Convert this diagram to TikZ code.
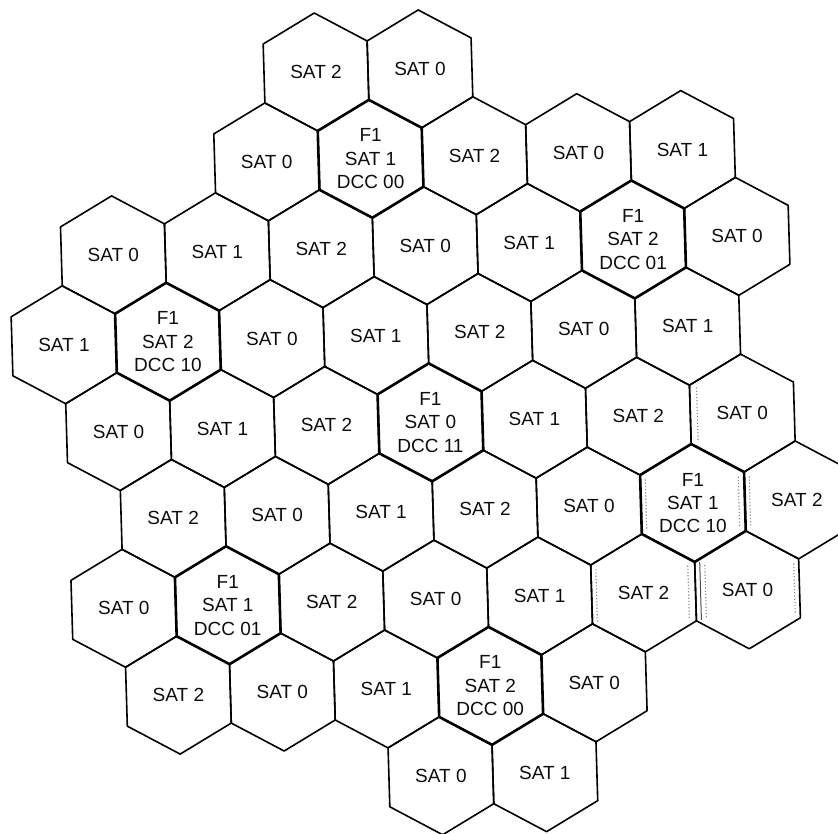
\documentclass[tikz,border=0pt]{standalone}
\usepackage{fontspec}
\setmainfont{Liberation Sans}
\usepackage{tikz}
\usetikzlibrary{calc}
% one cell of the grid: [style] {q}{r}{name}{text}
\newcommand{\hexcell}[5][]{%
  \draw[cell,#1,shift={(#2*104+#3*52,#3*88.4)}]
    (0,-59) -- (52,-29.5) -- (52,29.5) -- (0,59) -- (-52,29.5) -- (-52,-29.5) -- cycle;
  \node[celltext] (#4) at (#2*104+#3*52,#3*88.4) {#5};}

\begin{document}
\begin{tikzpicture}[x=0.5pt, y=-0.5pt,
    cell/.style={draw=black, line width=0.8pt, line join=round},
    fcell/.style={line width=1.3pt},
    celltext/.style={font=\fontsize{9.5}{11.7}\selectfont, align=center, inner sep=0pt, text=black!95},
    scanmark/.style={draw=black!45, densely dotted, line width=0.6pt}]
  \useasboundingbox (0,0) rectangle (838,833);
  \begin{scope}[shift={(316,72)}, rotate=1.7]
  % row 0
  \hexcell{0}{0}{a1}{SAT 2}
  \hexcell{1}{0}{a2}{SAT 0}
  % row 1
  \hexcell{-1}{1}{b1}{SAT 0}
  \hexcell{1}{1}{b3}{SAT 2}
  \hexcell{2}{1}{b4}{SAT 0}
  \hexcell{3}{1}{b5}{SAT 1}
  % row 2
  \hexcell{-3}{2}{c1}{SAT 0}
  \hexcell{-2}{2}{c2}{SAT 1}
  \hexcell{-1}{2}{c3}{SAT 2}
  \hexcell{0}{2}{c4}{SAT 0}
  \hexcell{1}{2}{c5}{SAT 1}
  \hexcell{3}{2}{c7}{SAT 0}
  % row 3
  \hexcell{-4}{3}{d1}{SAT 1}
  \hexcell{-2}{3}{d3}{SAT 0}
  \hexcell{-1}{3}{d4}{SAT 1}
  \hexcell{0}{3}{d5}{SAT 2}
  \hexcell{1}{3}{d6}{SAT 0}
  \hexcell{2}{3}{d7}{SAT 1}
  % row 4
  \hexcell{-4}{4}{e1}{SAT 0}
  \hexcell{-3}{4}{e2}{SAT 1}
  \hexcell{-2}{4}{e3}{SAT 2}
  \hexcell{0}{4}{e5}{SAT 1}
  \hexcell{1}{4}{e6}{SAT 2}
  \hexcell{2}{4}{e7}{SAT 0}
  % row 5
  \hexcell{-4}{5}{f1}{SAT 2}
  \hexcell{-3}{5}{f2}{SAT 0}
  \hexcell{-2}{5}{f3}{SAT 1}
  \hexcell{-1}{5}{f4}{SAT 2}
  \hexcell{0}{5}{f5}{SAT 0}
  \hexcell{2}{5}{f7}{SAT 2}
  % row 6
  \hexcell{-5}{6}{g1}{SAT 0}
  \hexcell{-3}{6}{g3}{SAT 2}
  \hexcell{-2}{6}{g4}{SAT 0}
  \hexcell{-1}{6}{g5}{SAT 1}
  \hexcell{0}{6}{g6}{SAT 2}
  \hexcell{1}{6}{g7}{SAT 0}
  % row 7
  \hexcell{-5}{7}{h1}{SAT 2}
  \hexcell{-4}{7}{h2}{SAT 0}
  \hexcell{-3}{7}{h3}{SAT 1}
  \hexcell{-1}{7}{h5}{SAT 0}
  % row 8
  \hexcell{-3}{8}{i1}{SAT 0}
  \hexcell{-2}{8}{i2}{SAT 1}

  % F1 cells, heavier outline on top
  \hexcell[fcell]{0}{1}{b2}{F1\\SAT 1\\DCC 00}
  \hexcell[fcell]{2}{2}{c6}{F1\\SAT 2\\DCC 01}
  \hexcell[fcell]{-3}{3}{d2}{F1\\SAT 2\\DCC 10}
  \hexcell[fcell]{-1}{4}{e4}{F1\\SAT 0\\DCC 11}
  \hexcell[fcell]{1}{5}{f6}{F1\\SAT 1\\DCC 10}
  \hexcell[fcell]{-4}{6}{g2}{F1\\SAT 1\\DCC 01}
  \hexcell[fcell]{-2}{7}{h4}{F1\\SAT 2\\DCC 00}

  % copy marks along some edges on the right
  \draw[scanmark, shift={(2*104+4*52,4*88.4)}] (-45,-27) -- (-45,28);
  \draw[scanmark, shift={(1*104+5*52,5*88.4)}] (-47,-25) -- (-47,25) (46,-25) -- (46,25) (57,-25) -- (57,25);
  \draw[scanmark, shift={(0*104+6*52,6*88.4)}] (-47,-25) -- (-47,28) (45,-26) -- (45,28) (62,-26) -- (62,28);
  \draw[draw=black!70, line width=0.5pt, shift={(0*104+6*52,6*88.4)}] (57,-29) -- (57,29);
  \draw[scanmark, shift={(1*104+6*52,6*88.4)}] (47,-25) -- (47,25);
  \end{scope}
\end{tikzpicture}
\end{document}
